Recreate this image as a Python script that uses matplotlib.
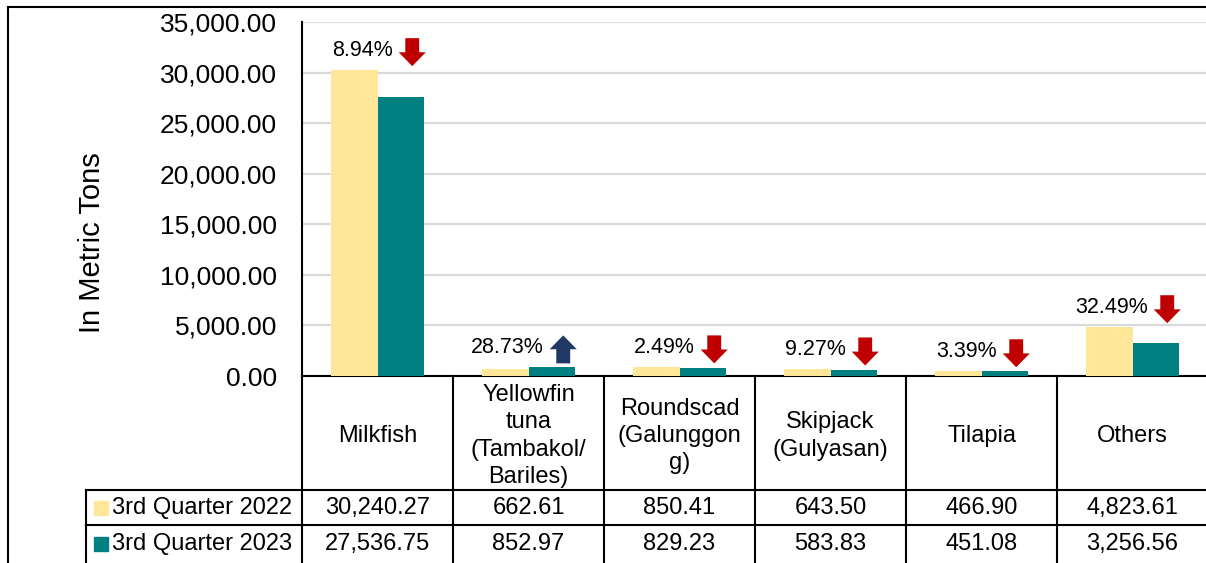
import matplotlib
matplotlib.use("Agg")
import matplotlib.pyplot as plt
import matplotlib.transforms as mtransforms
from matplotlib import font_manager
from matplotlib.lines import Line2D
from matplotlib.ticker import FuncFormatter

# ---- data ----
categories = ["Milkfish", "Yellowfin\ntuna\n(Tambakol/\nBariles)", "Roundscad\n(Galunggon\ng)",
              "Skipjack\n(Gulyasan)", "Tilapia", "Others"]
q3_2022 = [30240.27, 662.61, 850.41, 643.50, 466.90, 4823.61]
q3_2023 = [27536.75, 852.97, 829.23, 583.83, 451.08, 3256.56]
series_names = ["3rd Quarter 2022", "3rd Quarter 2023"]
colors = ["#FFE699", "#008080"]
up_color = "#203864"
down_color = "#C00000"

names = {f.name for f in font_manager.fontManager.ttflist}
narrow = "Liberation Sans Narrow" if "Liberation Sans Narrow" in names else "Liberation Sans"
plt.rcParams["font.family"] = ["Liberation Sans", "DejaVu Sans"]

W, H = 1206, 563
fig = plt.figure(figsize=(W / 100, H / 100), dpi=100)

# axes in pixel geometry
ax_l, ax_r, ax_t, ax_b = 302, 1208, 22, 376
ax = fig.add_axes([ax_l / W, 1 - ax_b / H, (ax_r - ax_l) / W, (ax_b - ax_t) / H])

n = len(categories)
xs = list(range(n))
bw = 0.31
ax.bar([x - bw / 2 for x in xs], q3_2022, width=bw, color=colors[0], zorder=3)
ax.bar([x + bw / 2 for x in xs], q3_2023, width=bw, color=colors[1], zorder=3)

ax.set_xlim(-0.5, n - 0.5)
ax.set_ylim(0, 35000)
ax.set_yticks(range(0, 35001, 5000))
ax.yaxis.set_major_formatter(FuncFormatter(lambda v, p: f"{v:,.2f}"))
ax.tick_params(axis="y", length=0, pad=18, labelsize=19)
ax.set_xticks([])
ax.grid(axis="y", color="#D9D9D9", linewidth=1.6, zorder=0)
for s in ["top", "right"]:
    ax.spines[s].set_visible(False)
ax.spines["left"].set_linewidth(1.5)
ax.spines["bottom"].set_linewidth(1.5)

fig.text(92 / W, 1 - 243 / H, "In Metric Tons", rotation=90, ha="center", va="center", fontsize=21)

# ---- percentage change labels + arrows ----
px = 72 / fig.dpi  # points per pixel
for i in xs:
    a, b = q3_2022[i], q3_2023[i]
    pct = abs(b - a) / a * 100
    top = max(a, b)
    dy = 20  # pixels above bar top
    ax.annotate(f"{pct:.2f}%", xy=(i + 0.1, top), xytext=(0, dy * px), textcoords="offset points",
                ha="right", va="center", fontsize=15.5, family=[narrow, "Liberation Sans"])
    up = b > a
    head = -14 if not up else 14
    yc = dy - 2
    t_head = ax.transData + mtransforms.ScaledTranslation(0, (yc + head) / 100, fig.dpi_scale_trans)
    t_tail = ax.transData + mtransforms.ScaledTranslation(0, (yc - head) / 100, fig.dpi_scale_trans)
    ax.annotate("", xy=(i + 0.23, top), xycoords=t_head, xytext=(i + 0.23, top), textcoords=t_tail,
                arrowprops=dict(arrowstyle="simple,head_length=1.0,head_width=1.95,tail_width=1.0",
                                mutation_scale=10, color=up_color if up else down_color,
                                shrinkA=0, shrinkB=0, lw=0))

# ---- data table below ----
tr = ax.get_xaxis_transform()
axh = ax_b - ax_t
def yfrac(py):
    return (ax_b - py) / axh

leg_left = -0.5 - (ax_l - 86) / ((ax_r - ax_l) / n)
y_head_bot = yfrac(490)
y_row1_bot = yfrac(525)
y_bottom = yfrac(600)
lk = dict(color="black", linewidth=1.5, transform=tr, clip_on=False)
for i in range(n + 1):
    ax.add_line(Line2D([i - 0.5, i - 0.5], [0, y_bottom], **lk))
ax.add_line(Line2D([leg_left, leg_left], [y_head_bot, y_bottom], **lk))
for yy in [y_head_bot, y_row1_bot]:
    ax.add_line(Line2D([leg_left, n - 0.5], [yy, yy], **lk))

fs_tab = 17
for i in xs:
    ax.text(i, yfrac(436), categories[i], transform=tr, ha="center", va="center",
            fontsize=fs_tab, linespacing=1.32)
    ax.text(i, yfrac(508), f"{q3_2022[i]:,.2f}", transform=tr, ha="center", va="center", fontsize=fs_tab)
    ax.text(i, yfrac(544), f"{q3_2023[i]:,.2f}", transform=tr, ha="center", va="center", fontsize=fs_tab)

colw = (ax_r - ax_l) / n
for k, yy in enumerate([508, 544]):
    ax.plot([leg_left + 14.5 / colw], [yfrac(yy)], marker="s", markersize=9.5, color=colors[k],
            transform=tr, clip_on=False, linestyle="none")
    ax.text(leg_left + 26 / colw, yfrac(yy), series_names[k], transform=tr, ha="left", va="center",
            fontsize=fs_tab)

# outer chart frame
fig.add_artist(Line2D([8 / W, 8 / W], [-0.1, 1 - 7 / H], color="black", linewidth=1.5, transform=fig.transFigure))
fig.add_artist(Line2D([8 / W, 1.1], [1 - 7 / H, 1 - 7 / H], color="black", linewidth=1.5, transform=fig.transFigure))

fig.savefig("out.png", dpi=100)
